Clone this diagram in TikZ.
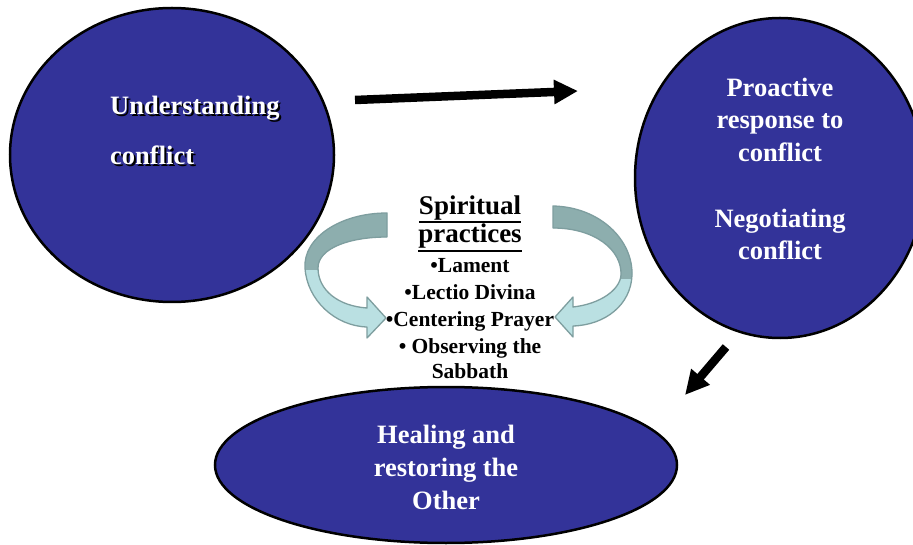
\documentclass[tikz,border=0pt]{standalone}
\usepackage{fontspec}
\setmainfont{Liberation Serif}
\usetikzlibrary{shapes.geometric,arrows.meta}
\definecolor{blobblue}{HTML}{333399}
\definecolor{curvedark}{HTML}{8DAEAE}
\definecolor{curvelight}{HTML}{BAE0E2}
\definecolor{curveline}{HTML}{7E9E9F}
\newcommand\lcurvepath{(387,213) .. controls (340,213) and (303,238) .. (305,268)
  .. controls (307,300) and (335,326) .. (367,327)
  -- (367,338) -- (386,318) -- (367,297) -- (367,308)
  .. controls (338,306) and (318,290) .. (318,268)
  .. controls (318,248) and (350,237) .. (387,237) -- cycle}
\newcommand\rcurvepath{(553,206) .. controls (600,207) and (633,240) .. (632,275)
  .. controls (631,305) and (605,325) .. (573,326)
  -- (573,337) -- (555,317) -- (573,297) -- (573,307)
  .. controls (600,304) and (620,290) .. (621,275)
  .. controls (622,250) and (595,228) .. (553,228) -- cycle}
\newcommand\shadowed[1]{\rlap{\kern2pt\raisebox{-2pt}{\color{black}#1}}#1}
\begin{document}
\begin{tikzpicture}[x=1pt,y=-1pt,
  blob/.style={ellipse, draw=black, line width=2.5pt, fill=blobblue, inner sep=0pt},
  bigtxt/.style={font=\bfseries\fontsize{26.5}{32}\selectfont, text=white, inner sep=0pt, anchor=base},
  shadowtxt/.style={font=\bfseries\fontsize{26.5}{32}\selectfont, text=white, inner sep=0pt, anchor=base west},
  headtxt/.style={font=\bfseries\fontsize{27}{28}\selectfont, text=black, inner sep=0pt, anchor=base},
  itemtxt/.style={font=\bfseries\fontsize{21.5}{26}\selectfont, text=black, inner sep=0pt, anchor=base},
  bigarrow/.style={line width=8.5pt, -{Triangle[length=24pt,width=23pt]}},
  curvefill/.style={fill=curvelight},
  curveedge/.style={draw=curveline, line width=1.3pt, line join=round}
]
\clip (0,0) rectangle (913,545);
\fill[white] (0,0) rectangle (913,545);

% ellipses
\node[blob, minimum width=324pt, minimum height=294pt] (under) at (172,155) {};
\node[blob, minimum width=290pt, minimum height=320pt] (proact) at (780,178) {};
\node[blob, minimum width=462pt, minimum height=156pt] (heal) at (446,465) {};

% understanding text with shadow
\node[shadowtxt] (u1) at (110,115) {\shadowed{Understanding}};
\node[shadowtxt] (u2) at (110,165) {\shadowed{conflict}};

% proactive text
\node[bigtxt] (p1) at (780,97) {Proactive};
\node[bigtxt] (p2) at (780,129) {response to};
\node[bigtxt] (p3) at (780,162) {conflict};
\node[bigtxt] (p4) at (780,228) {Negotiating};
\node[bigtxt] (p5) at (780,260) {conflict};

% healing text
\node[bigtxt] (h1) at (446,443) {Healing and};
\node[bigtxt] (h2) at (446,476) {restoring the};
\node[bigtxt] (h3) at (446,509) {Other};

% spiritual practices
\node[headtxt] (s1) at (470,215) {Spiritual};
\node[headtxt] (s2) at (470,243) {practices};
\draw[line width=2pt] ([yshift=-7pt]s1.base west) -- ([yshift=-7pt]s1.base east);
\draw[line width=2pt] ([yshift=-8.5pt]s2.base west) -- ([yshift=-8.5pt]s2.base east);
\node[itemtxt] (i1) at (470,273) {•Lament};
\node[itemtxt] (i2) at (470,300) {•Lectio Divina};
\node[itemtxt] (i3) at (470,326.5) {•Centering Prayer};
\node[itemtxt] (i4) at (470,353) {• Observing the};
\node[itemtxt] (i5) at (470,378.5) {Sabbath};

% curved arrows
\fill[curvefill] \lcurvepath;
\begin{scope}
  \clip \lcurvepath;
  \fill[curvedark] (280,195) rectangle (400,270);
\end{scope}
\draw[curveedge] \lcurvepath;

\fill[curvefill] \rcurvepath;
\begin{scope}
  \clip \rcurvepath;
  \fill[curvedark] (540,195) rectangle (645,279);
\end{scope}
\draw[curveedge] \rcurvepath;

% straight arrows
\coordinate (a1s) at (355,100);
\coordinate (a1e) at (578,91);
\draw[bigarrow] (a1s) -- (a1e);
\coordinate (a2s) at (726,347);
\coordinate (a2e) at (685,395);
\draw[bigarrow] (a2s) -- (a2e);
\end{tikzpicture}
\end{document}
